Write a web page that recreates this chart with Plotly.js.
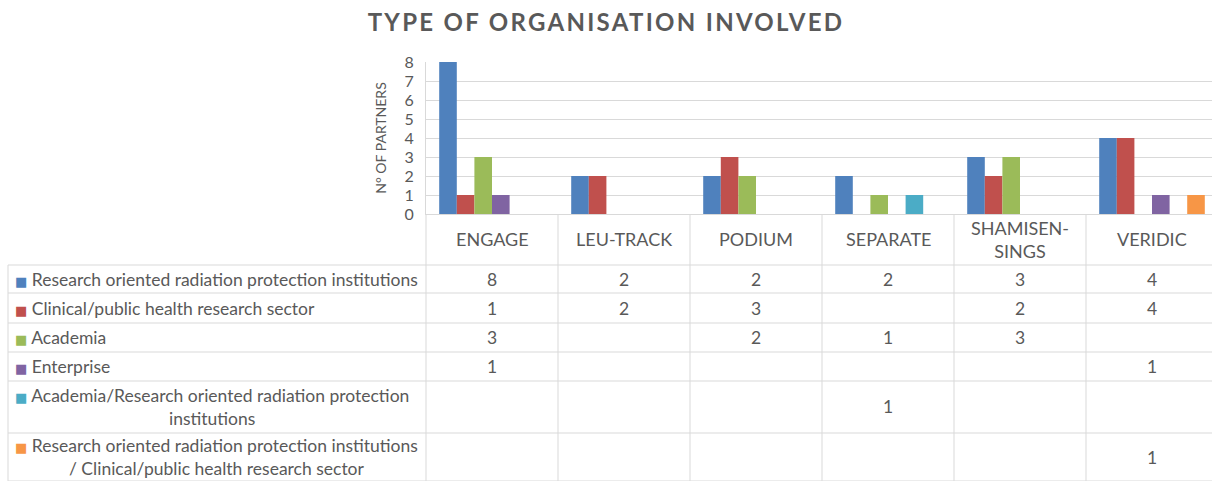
<!DOCTYPE html>
<html>
<head>
<meta charset="utf-8">
<script src="https://cdn.plot.ly/plotly-3.0.1.min.js"></script>
<style>
  body { margin: 0; background: #fff; }
  #chart { width: 1212px; height: 481px; }
  .gtitle { letter-spacing: 2.3px; }
</style>
</head>
<body>
<div id="chart"></div>
<script>
// categories (projects)
var projects = ['ENGAGE', 'LEU-TRACK', 'PODIUM', 'SEPARATE', 'SHAMISEN-SINGS', 'VERIDIC'];
var projectLabels = ['ENGAGE', 'LEU-TRACK', 'PODIUM', 'SEPARATE', 'SHAMISEN-<br>SINGS', 'VERIDIC'];

// series names, shown in the data table
var seriesNames = [
    'Research oriented radiation protection institutions',
    'Clinical/public health research sector',
    'Academia',
    'Enterprise',
    'Academia/Research oriented radiation protection institutions',
    'Research oriented radiation protection institutions / Clinical/public health research sector'
];
var seriesLabels = [
    'Research oriented radiation protection institutions',
    'Clinical/public health research sector',
    'Academia',
    'Enterprise',
    'Academia/Research oriented radiation protection<br>institutions',
    'Research oriented radiation protection institutions<br>/ Clinical/public health research sector'
];

// number of partners per project (null = empty cell)
var researchRP = [8, 2, 2, 2, 3, 4];
var clinical = [1, 2, 3, null, 2, 4];
var academia = [3, null, 2, 1, 3, null];
var enterprise = [1, null, null, null, null, 1];
var academiaRP = [null, null, null, 1, null, null];
var researchClinical = [null, null, null, null, null, 1];

var seriesValues = [researchRP, clinical, academia, enterprise, academiaRP, researchClinical];
var colors = ['#4F81BD', '#C0504D', '#9BBB59', '#8064A2', '#4BACC6', '#F79646'];

// layout geometry (pixels)
var W = 1212, H = 481;
var plotLeft = 426, plotTop = 62, plotBottom = 214;
var colWidth = 132;
var plotW = W - plotLeft, plotH = plotBottom - plotTop;
var xMin = -0.5, xMax = -0.5 + plotW / colWidth;
var tableLeft = 8;
var headerTop = 265;
var rowEdges = [265, 293, 323, 352, 381, 433, 481];
var textColor = '#595959';
var lineColor = '#D9D9D9';
var font = 'Lato, "Liberation Sans", sans-serif';

function paperY(py) { return (plotBottom - py) / plotH; }
function paperX(px) { return (px - plotLeft) / plotW; }
function colPaperX(i) { return (i - 0.5 - xMin) / (xMax - xMin); }

var data = seriesValues.map(function (vals, s) {
    return {
        type: 'bar',
        name: seriesNames[s],
        x: projects,
        y: vals,
        marker: { color: colors[s] },
        hoverinfo: 'none'
    };
});

var shapes = [];
var lineStyle = { color: lineColor, width: 1 };
// horizontal table lines
rowEdges.forEach(function (py) {
    shapes.push({ type: 'line', xref: 'paper', yref: 'paper',
        x0: paperX(tableLeft), x1: colPaperX(projects.length),
        y0: paperY(py), y1: paperY(py), line: lineStyle });
});
// left border of the label column
shapes.push({ type: 'line', xref: 'paper', yref: 'paper',
    x0: paperX(tableLeft), x1: paperX(tableLeft),
    y0: paperY(headerTop), y1: paperY(H), line: lineStyle });
// column separators
for (var i = 0; i <= projects.length; i++) {
    shapes.push({ type: 'line', xref: 'paper', yref: 'paper',
        x0: colPaperX(i), x1: colPaperX(i),
        y0: 0, y1: paperY(H), line: lineStyle });
}

var annotations = [];
var cellFont = { family: font, size: 17.5, color: textColor };
var headFont = { family: font, size: 18, color: textColor };
// category header row
projectLabels.forEach(function (lab, i) {
    annotations.push({ xref: 'x', yref: 'paper', x: i, y: paperY((plotBottom + headerTop) / 2),
        text: lab, showarrow: false, font: headFont, xanchor: 'center', yanchor: 'middle' });
});
// rows: legend key + label, then values
seriesValues.forEach(function (vals, s) {
    var yMid = paperY((rowEdges[s] + rowEdges[s + 1]) / 2);
    annotations.push({ xref: 'paper', yref: 'paper', x: paperX(13), y: yMid,
        text: '<span style="color:' + colors[s] + ';font-family:DejaVu Sans;font-size:13px">■</span> ' + seriesLabels[s],
        showarrow: false, font: cellFont, xanchor: 'left', yanchor: 'middle', align: 'center' });
    vals.forEach(function (v, i) {
        if (v === null) return;
        annotations.push({ xref: 'x', yref: 'paper', x: i, y: yMid,
            text: String(v), showarrow: false, font: cellFont, xanchor: 'center', yanchor: 'middle' });
    });
});

var layout = {
    width: W,
    height: H,
    margin: { l: plotLeft, r: 0, t: plotTop, b: H - plotBottom, pad: 0 },
    paper_bgcolor: '#fff',
    plot_bgcolor: '#fff',
    showlegend: false,
    barmode: 'group',
    bargap: 0.2,
    bargroupgap: 0,
    title: {
        text: '<b>TYPE OF ORGANISATION INVOLVED</b>',
        x: 0.5, xref: 'container', xanchor: 'center',
        y: 1 - 23 / H, yref: 'container', yanchor: 'middle',
        font: { family: font, size: 24, color: textColor }
    },
    xaxis: {
        range: [xMin, xMax],
        showticklabels: false,
        showgrid: false,
        showline: true,
        linecolor: lineColor,
        zeroline: false,
        fixedrange: true
    },
    yaxis: {
        range: [0, 8],
        dtick: 1,
        tickfont: { family: font, size: 16, color: textColor },
        gridcolor: lineColor,
        showline: true,
        linecolor: lineColor,
        zeroline: false,
        ticks: '',
        ticklabelstandoff: 8,
        title: { text: 'N° OF PARTNERS', font: { family: font, size: 14, color: textColor }, standoff: 14 },
        fixedrange: true
    },
    shapes: shapes,
    annotations: annotations
};

Plotly.newPlot('chart', data, layout, { displayModeBar: false, staticPlot: true });
</script>
</body>
</html>
